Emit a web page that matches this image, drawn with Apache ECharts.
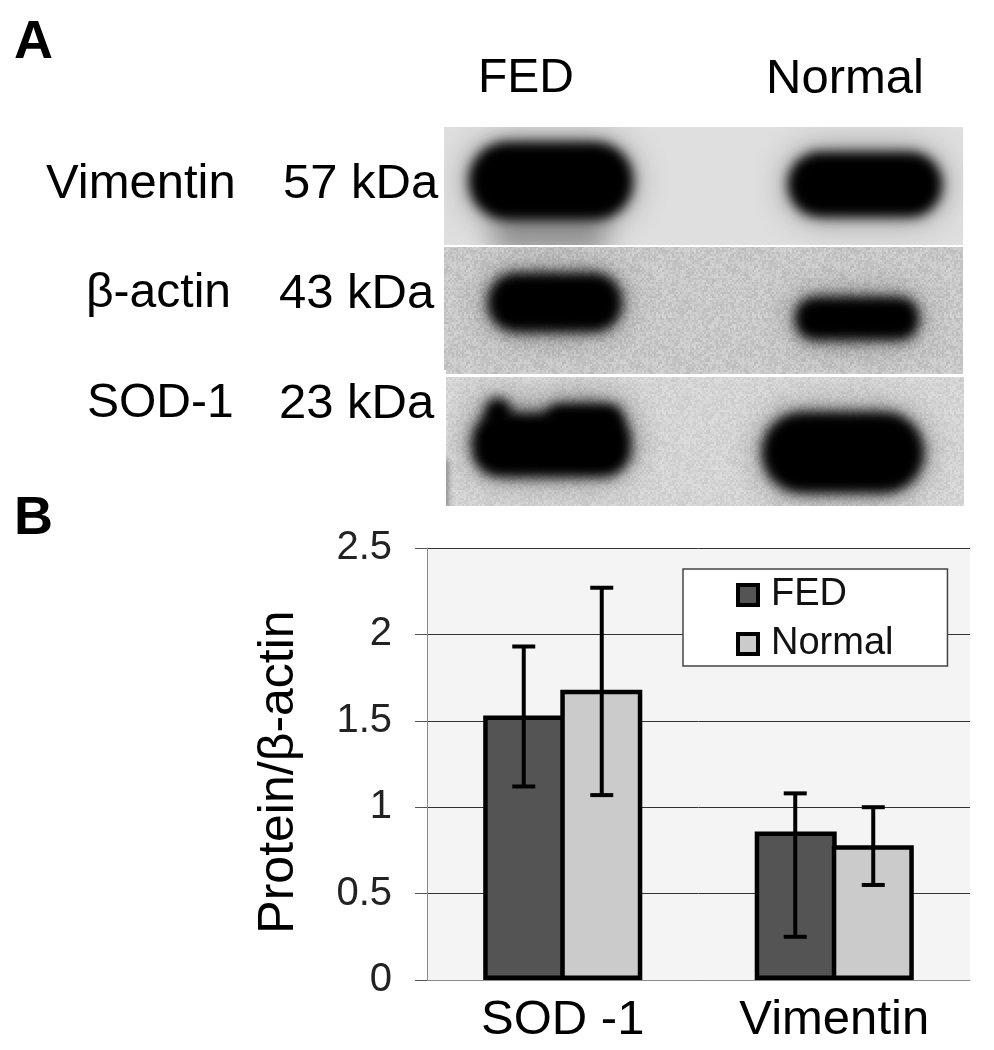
<!DOCTYPE html>
<html>
<head>
<meta charset="utf-8">
<title>FED vs Normal</title>
<script src="https://cdn.jsdelivr.net/npm/echarts@6/dist/echarts.min.js"></script>
<style>
  html, body { margin: 0; padding: 0; background: #fff; }
  #chart { width: 994px; height: 1050px; }
</style>
</head>
<body>
<div id="chart"></div>
<script>
const categories = ["SOD -1", "Vimentin"];
const fedValues = [1.53, 0.86];
const normalValues = [1.68, 0.78];
const fedLow = [1.12, 0.25];
const fedHigh = [1.93, 1.08];
const normalLow = [1.07, 0.55];
const normalHigh = [2.27, 1.0];

const FONT = '"Liberation Sans", Arial, sans-serif';
const chart = echarts.init(document.getElementById("chart"));

// speckle tile for the blot backgrounds (fixed hash, not chart data)
function speckle(base, spread) {
  const c = document.createElement("canvas");
  c.width = c.height = 96;
  const ctx = c.getContext("2d");
  for (let y = 0; y < 96; y += 2) {
    for (let x = 0; x < 96; x += 2) {
      const h = Math.sin(x * 12.9898 + y * 78.233) * 43758.5453;
      const g = Math.round(base + (h - Math.floor(h) - 0.5) * spread);
      ctx.fillStyle = "rgb(" + g + "," + g + "," + g + ")";
      ctx.fillRect(x, y, 2, 2);
    }
  }
  return c;
}

function panel(x, y, width, height, fill) {
  return { type: "rect", z: 1, silent: true, shape: { x, y, width, height }, style: { fill } };
}
// only the shadow lands on the page, so the edge fades both ways like a film band
const OFF = 3000;
function blur(x, y, width, height, r, size, color, z) {
  return {
    type: "rect", z: z, silent: true,
    shape: { x: x - OFF, y, width, height, r },
    style: { fill: "#000", shadowColor: color, shadowBlur: size, shadowOffsetX: OFF }
  };
}
function band(x, y, width, height, r) {
  return [
    blur(x, y, width, height, r, 34, "rgba(0,0,0,0.45)", 2),
    blur(x, y, width, height, r, 12, "#000", 2)
  ];
}
function mask(x, y, width, height) {
  return { type: "rect", z: 3, silent: true, shape: { x, y, width, height }, style: { fill: "#fff" } };
}
function label(text, x, y, size, weight) {
  return {
    type: "text", z: 5, silent: true, x, y,
    style: { text, fill: "#000", font: (weight || "normal") + " " + size + "px " + FONT, textVerticalAlign: "middle" }
  };
}

const blots = [
  panel(444, 127, 519, 118, "#dfdfdf"),
  blur(492, 218, 115, 34, 10, 26, "#9a9a9a", 1),
  panel(444, 247, 519, 127, { image: speckle(200, 26), repeat: "repeat" }),
  panel(446, 377, 518, 129, { image: speckle(212, 20), repeat: "repeat" }),
  blur(442, 460, 6, 50, 3, 6, "#777", 1),
  ...band(469, 142, 164, 78, 38),
  ...band(788, 152, 154, 65, 32),
  ...band(488, 273, 134, 59, 28),
  ...band(795, 297, 124, 43, 20),
  ...band(472, 413, 159, 64, 28),
  ...band(485, 398, 26, 32, 13),
  ...band(545, 404, 78, 30, 15),
  ...band(762, 412, 162, 81, 40),
  mask(410, 100, 560, 27),
  mask(410, 245, 560, 2),
  mask(410, 374, 560, 3),
  mask(410, 506, 560, 30),
  mask(410, 100, 34, 270),
  mask(410, 370, 36, 140),
  mask(964, 100, 30, 420)
];

const texts = [
  label("A", 14, 43, 54, "bold"),
  label("B", 14, 519, 54, "bold"),
  label("FED", 478, 79, 48),
  label("Normal", 766, 79, 49),
  label("Vimentin", 46, 184, 49),
  label("57 kDa", 283, 184, 49),
  label("β-actin", 86, 294, 48),
  label("43 kDa", 279, 294, 49),
  label("SOD-1", 87, 404, 48),
  label("23 kDa", 279, 404, 49)
];

function errorSeries(low, high, offset, capHalf) {
  return {
    type: "custom",
    z: 6,
    silent: true,
    data: categories.map((c, i) => [i, low[i], high[i]]),
    encode: { x: 0, y: [1, 2] },
    renderItem(params, api) {
      const lo = api.coord([api.value(0), api.value(1)]);
      const hi = api.coord([api.value(0), api.value(2)]);
      const x = lo[0] + offset;
      const style = { stroke: "#000", lineWidth: 4, fill: "none" };
      return {
        type: "group",
        children: [
          { type: "line", shape: { x1: x, y1: lo[1], x2: x, y2: hi[1] }, style },
          { type: "line", shape: { x1: x - capHalf, y1: lo[1], x2: x + capHalf, y2: lo[1] }, style },
          { type: "line", shape: { x1: x - capHalf, y1: hi[1], x2: x + capHalf, y2: hi[1] }, style }
        ]
      };
    }
  };
}

chart.setOption({
  animation: false,
  backgroundColor: "#fff",
  textStyle: { fontFamily: FONT },
  grid: {
    left: 427, top: 548, width: 543, height: 432,
    show: true, backgroundColor: "#f4f4f4", borderWidth: 0
  },
  legend: {
    data: ["FED", "Normal"],
    icon: "rect",
    orient: "vertical",
    left: 683, top: 569,
    padding: [7, 54, 3, 53],
    itemGap: 11,
    itemWidth: 20,
    itemHeight: 20,
    backgroundColor: "#fff",
    borderColor: "#444",
    borderWidth: 1.5,
    itemStyle: { borderColor: "#000", borderWidth: 4 },
    textStyle: { fontSize: 38, color: "#111", fontFamily: FONT, padding: [0, 0, 0, 8] }
  },
  xAxis: {
    type: "category",
    data: categories,
    axisLine: { lineStyle: { color: "#8a8a8a", width: 1 } },
    axisTick: { show: false },
    axisLabel: { fontSize: 49, color: "#000", margin: 16, fontFamily: FONT }
  },
  yAxis: {
    type: "value",
    min: 0, max: 2.5, interval: 0.5,
    name: "Protein/β-actin",
    nameLocation: "middle",
    nameGap: 123,
    nameTextStyle: { fontSize: 50, color: "#000", fontFamily: FONT, padding: [0, 16, 0, 0] },
    axisLine: { show: true, lineStyle: { color: "#8a8a8a", width: 1 } },
    axisTick: { show: true, length: 12, lineStyle: { color: "#555" } },
    axisLabel: { fontSize: 40, color: "#222", margin: 35, fontFamily: FONT, padding: [6, 0, 0, 0] },
    splitLine: { show: true, lineStyle: { color: "#333", width: 1 } }
  },
  series: [
    {
      name: "FED", type: "bar", data: fedValues, barWidth: 82, barGap: "-6%", z: 3,
      itemStyle: { color: "#545454", borderColor: "#000", borderWidth: 4.5 }
    },
    {
      name: "Normal", type: "bar", data: normalValues, barWidth: 82, barGap: "-6%", z: 3,
      itemStyle: { color: "#cbcbcb", borderColor: "#000", borderWidth: 4.5 }
    },
    errorSeries(fedLow, fedHigh, -39, 11.5),
    errorSeries(normalLow, normalHigh, 39, 11.5)
  ],
  graphic: { elements: blots.concat(texts) }
});
</script>
</body>
</html>
